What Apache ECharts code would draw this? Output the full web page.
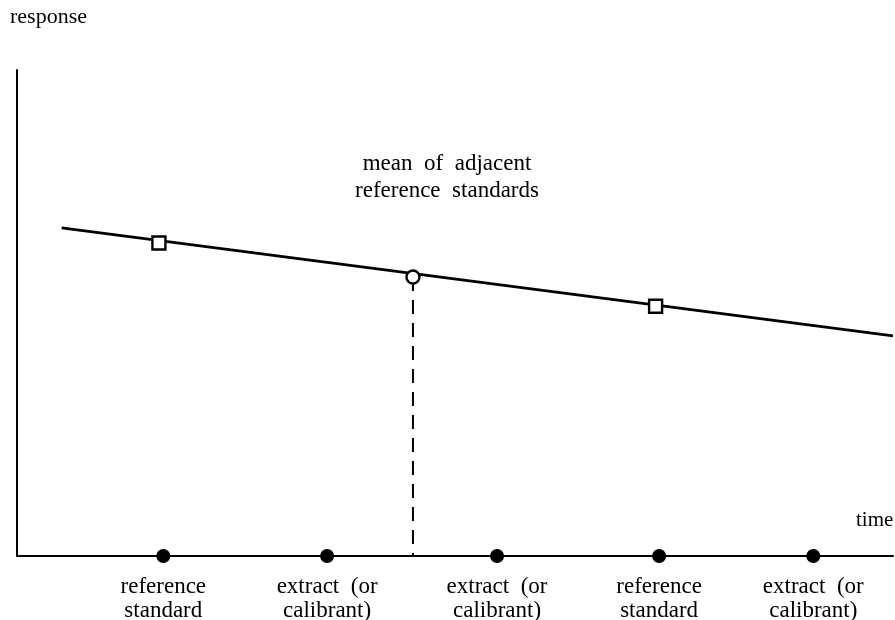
<!DOCTYPE html>
<html>
<head>
<meta charset="utf-8">
<script src="https://cdn.jsdelivr.net/npm/echarts@6/dist/echarts.min.js"></script>
<style>
  html, body { margin: 0; padding: 0; background: #fff; }
  #chart { width: 895px; height: 620px; }
</style>
</head>
<body>
<div id="chart"></div>
<script>
// sample positions along the time axis (schematic units 0..100)
var sampleLabels = ['reference\nstandard', 'extract  (or\ncalibrant)', 'extract  (or\ncalibrant)', 'reference\nstandard', 'extract  (or\ncalibrant)']
var sampleTimes = [16.7, 35.4, 54.8, 73.3, 90.9]

// drifting response line
var driftLine = [[5.1, 67.5], [100, 45.3]]
// reference standard responses (squares)
var refPoints = [[16.2, 64.4], [72.9, 51.4]]
// mean of adjacent reference standards (circle)
var meanPoint = [45.2, 57.4]

var FONT = '"Liberation Serif", "DejaVu Serif", serif'

function initChart() {
    var myChart = echarts.init(document.getElementById('chart'))

    var samples = sampleTimes.map(function(t, i) {
        return { value: [t, 0], name: sampleLabels[i] }
    })

    var option = {
        animation: false,
        grid: {
            left: 17,
            right: 2,
            top: 70,
            bottom: 64
        },
        xAxis: {
            type: 'value',
            min: 0,
            max: 100,
            axisLine: { lineStyle: { color: '#000', width: 2 } },
            axisTick: { show: false },
            axisLabel: { show: false },
            splitLine: { show: false }
        },
        yAxis: {
            type: 'value',
            min: 0,
            max: 100,
            axisLine: { show: true, lineStyle: { color: '#000', width: 2 } },
            axisTick: { show: false },
            axisLabel: { show: false },
            splitLine: { show: false }
        },
        graphic: [
            {
                type: 'text', x: 10, y: 6,
                style: { text: 'response', font: '22px ' + FONT, fill: '#000' }
            },
            {
                type: 'text', x: 856, y: 510,
                style: { text: 'time', font: '21px ' + FONT, fill: '#000' }
            },
            {
                type: 'text', x: 447, y: 150,
                style: {
                    text: 'mean  of  adjacent\nreference  standards',
                    font: '23px ' + FONT, fill: '#000',
                    align: 'center', lineHeight: 27
                }
            }
        ],
        series: [
            {
                // vertical dashed drop from the mean point
                type: 'line',
                data: [meanPoint, [meanPoint[0], 0]],
                symbol: 'none',
                lineStyle: { color: '#000', width: 2, type: [14, 9] },
                z: 1
            },
            {
                type: 'line',
                data: driftLine,
                symbol: 'none',
                lineStyle: { color: '#000', width: 2.8 },
                z: 2
            },
            {
                type: 'scatter',
                data: refPoints,
                symbol: 'rect',
                symbolSize: 13,
                itemStyle: { color: '#fff', borderColor: '#000', borderWidth: 2.4, opacity: 1 },
                z: 3
            },
            {
                type: 'scatter',
                data: [meanPoint],
                symbol: 'circle',
                symbolSize: 13,
                itemStyle: { color: '#fff', borderColor: '#000', borderWidth: 2.4, opacity: 1 },
                z: 3
            },
            {
                type: 'scatter',
                data: samples,
                symbol: 'circle',
                symbolSize: 14,
                itemStyle: { color: '#000', opacity: 1 },
                label: {
                    show: true,
                    position: 'bottom',
                    distance: 12,
                    formatter: function(p) { return p.name },
                    color: '#000',
                    fontFamily: FONT,
                    fontSize: 23,
                    lineHeight: 24,
                    align: 'center'
                },
                z: 4
            }
        ]
    }
    myChart.setOption(option)
}

initChart()
</script>
</body>
</html>
